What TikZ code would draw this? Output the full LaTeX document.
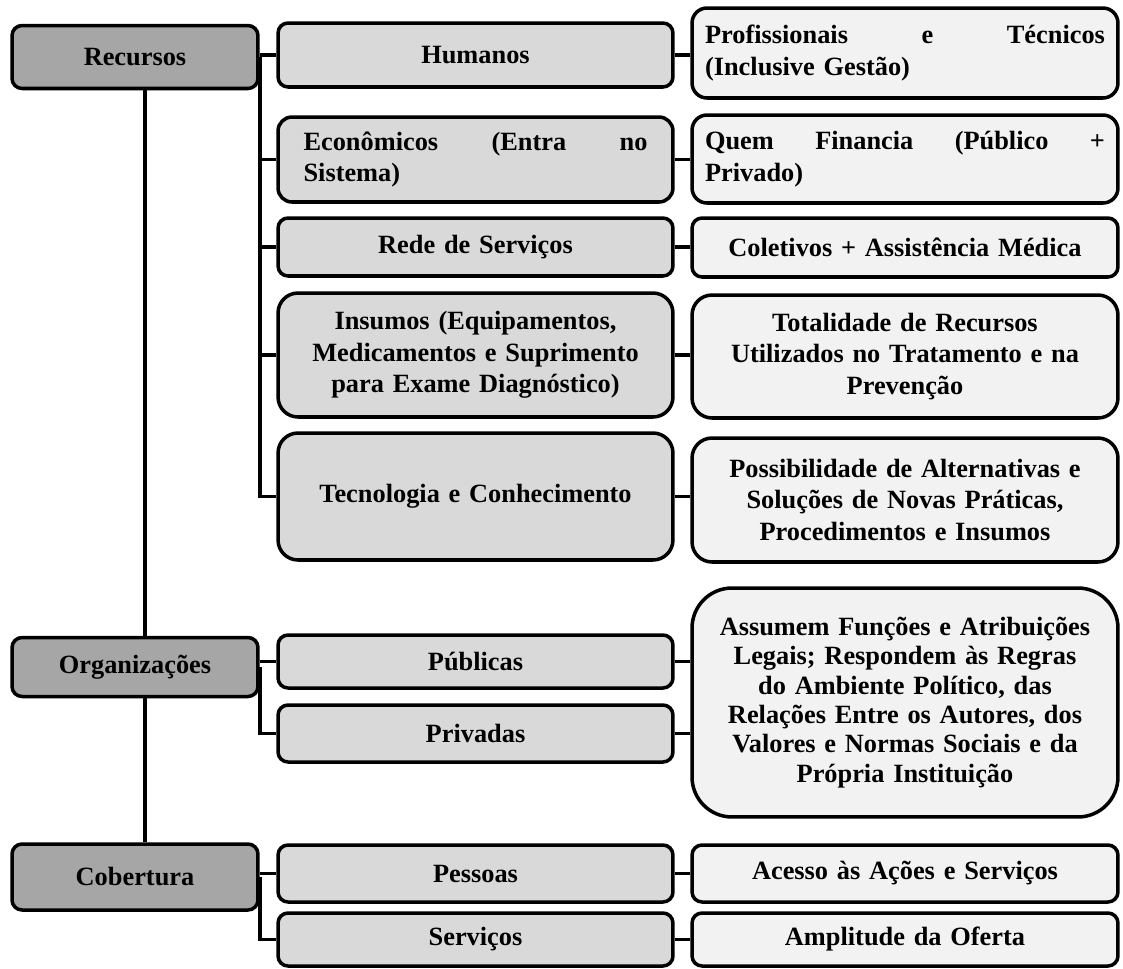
\documentclass[tikz,border=0pt]{standalone}
\usepackage{fontspec}
\setmainfont{Liberation Serif}
\usepackage{xcolor}
\usepackage{tikz}
\usetikzlibrary{calc}
\definecolor{grayA}{HTML}{A6A6A6}
\definecolor{grayB}{HTML}{D9D9D9}
\definecolor{grayC}{HTML}{F2F2F2}
\tikzset{
  box/.style={
    draw=black, line width=2pt, rounded corners=0.2cm,
    align=center, inner sep=0pt,
    font=\bfseries\fontsize{15}{18}\selectfont
  },
  catbox/.style={box, fill=grayA, minimum width=4.92cm, text width=4.6cm},
  subbox/.style={box, fill=grayB, minimum width=7.9cm, text width=6.88cm},
  descbox/.style={box, fill=grayC, minimum width=8.52cm, text width=8.0cm},
  link/.style={line width=2.2pt}
}
\begin{document}
\begin{tikzpicture}[x=0.02cm, y=-0.02cm]
  \useasboundingbox (0,0) rectangle (1123,968);
  \node[catbox, minimum height=1.26cm] (rec) at (135,57) {Recursos};
  \node[catbox, minimum height=1.18cm] (org) at (135,667) {Organizações};
  \node[catbox, minimum height=1.32cm] (cob) at (135,877) {Cobertura};

  \node[subbox, minimum height=1.28cm] (hum) at (475.5,55) {Humanos};
  \node[subbox, minimum height=1.70cm, rounded corners=0.28cm, align=left] (eco) at (475.5,159.5) {Econômicos \hfill (Entra \hfill no\\Sistema)};
  \node[subbox, minimum height=1.16cm] (rede) at (475.5,247) {Rede de Serviços};
  \node[subbox, minimum height=2.48cm, rounded corners=0.4cm] (ins) at (475.5,355) {Insumos (Equipamentos,\\Medicamentos e Suprimento\\para Exame Diagnóstico)};
  \node[subbox, minimum height=2.54cm, rounded corners=0.4cm] (tec) at (475.5,496.5) {Tecnologia e Conhecimento};
  \node[subbox, minimum height=1.06cm] (pub) at (475.5,661.5) {Públicas};
  \node[subbox, minimum height=1.14cm] (pri) at (475.5,733.5) {Privadas};
  \node[subbox, minimum height=1.14cm] (pes) at (475.5,873.5) {Pessoas};
  \node[subbox, minimum height=1.06cm] (ser) at (475.5,939.5) {Serviços};

  \node[descbox, minimum height=1.80cm, rounded corners=0.3cm, align=left] (prof) at (905,53) {Profissionais \hfill e \hfill Técnicos\\(Inclusive Gestão)};
  \node[descbox, minimum height=1.76cm, rounded corners=0.3cm, align=left] (quem) at (905,159) {Quem \hfill Financia \hfill (Público \hfill +\\Privado)};
  \node[descbox, minimum height=1.18cm] (col) at (905,247.5) {Coletivos + Assistência Médica};
  \node[descbox, minimum height=2.46cm, rounded corners=0.4cm] (tot) at (905,356.5) {Totalidade de Recursos\\Utilizados no Tratamento e na\\Prevenção};
  \node[descbox, minimum height=2.48cm, rounded corners=0.4cm] (pos) at (905,500) {Possibilidade de Alternativas e\\Soluções de Novas Práticas,\\Procedimentos e Insumos};
  \node[descbox, minimum height=4.58cm, rounded corners=0.8cm, font=\bfseries\fontsize{15}{16.7}\selectfont] (ass) at (905,702.5) {Assumem Funções e Atribuições\\Legais; Respondem às Regras\\do Ambiente Político, das\\Relações Entre os Autores, dos\\Valores e Normas Sociais e da\\Própria Instituição};
  \node[descbox, minimum height=1.14cm] (ace) at (905,873.5) {Acesso às Ações e Serviços};
  \node[descbox, minimum height=1.06cm] (amp) at (905,939.5) {Amplitude da Oferta};

  \coordinate (spine) at (145,0);
  \draw[link] (rec.south -| spine) -- (org.north -| spine);
  \draw[link] (org.south -| spine) -- (cob.north -| spine);

  \draw[link] (rec.east) |- (tec.west);
  \draw[link] (rec.east |- hum.west) -- (hum.west);
  \draw[link] (rec.east |- eco.west) -- (eco.west);
  \draw[link] (rec.east |- rede.west) -- (rede.west);
  \draw[link] (rec.east |- ins.west) -- (ins.west);
  \draw[link] (org.east) |- (pri.west);
  \draw[link] (org.east |- pub.west) -- (pub.west);
  \draw[link] (cob.east) |- (ser.west);
  \draw[link] (cob.east |- pes.west) -- (pes.west);

  \draw[link] (hum.east) -- (hum.east -| prof.west);
  \draw[link] (eco.east) -- (eco.east -| quem.west);
  \draw[link] (rede.east) -- (rede.east -| col.west);
  \draw[link] (ins.east) -- (ins.east -| tot.west);
  \draw[link] (tec.east) -- (tec.east -| pos.west);
  \draw[link] (pub.east) -- (pub.east -| ass.west);
  \draw[link] (pri.east) -- (pri.east -| ass.west);
  \draw[link] (pes.east) -- (pes.east -| ace.west);
  \draw[link] (ser.east) -- (ser.east -| amp.west);
\end{tikzpicture}
\end{document}
